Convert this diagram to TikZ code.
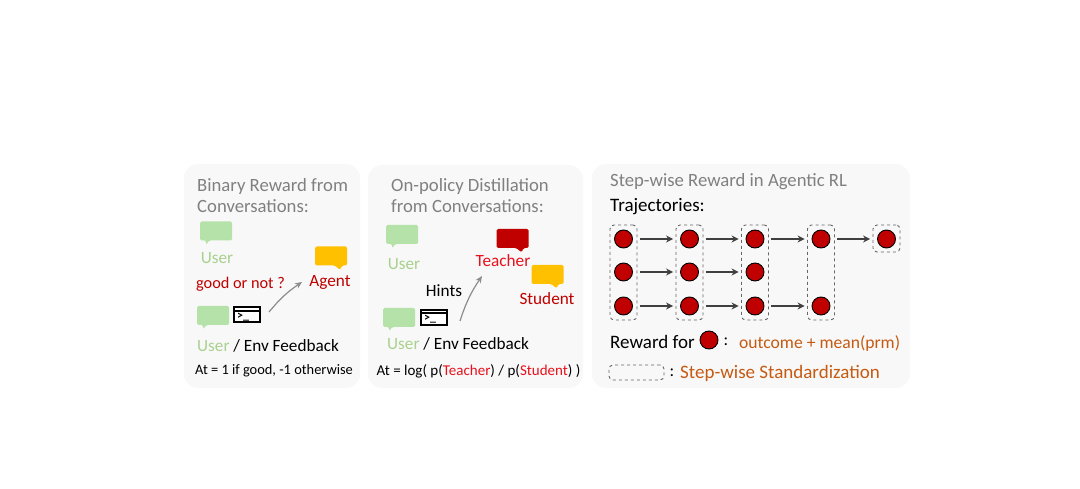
\documentclass[tikz,border=0pt]{standalone}
\usepackage{fontspec}
\setmainfont{Carlito}
\usetikzlibrary{arrows.meta}
\definecolor{panelgray}{HTML}{F8F8F8}
\definecolor{titlegray}{HTML}{808080}
\definecolor{userleaf}{HTML}{A9D18E}
\definecolor{bubblegreen}{HTML}{B5E2A8}
\definecolor{darkred}{HTML}{C00000}
\definecolor{brightred}{HTML}{E8101C}
\definecolor{amber}{HTML}{FFC000}
\definecolor{rust}{HTML}{C55A11}
\tikzset{
  panel/.style={fill=panelgray, rounded corners=14pt},
  title/.style={anchor=west, text=titlegray, font=\fontsize{18.7}{19}\selectfont, inner sep=0pt},
  label/.style={inner sep=0pt, font=\fontsize{17.2}{18}\selectfont},
  wide/.style={inner sep=0pt, font=\fontsize{19}{19}\selectfont},
  small/.style={inner sep=0pt, font=\fontsize{15}{16}\selectfont},
  state/.style={circle, draw=black, fill=darkred, minimum size=18pt, inner sep=0pt, line width=0.9pt},
  stepbox/.style={draw=black!60, dashed, rounded corners=4pt, line width=0.9pt, minimum width=27pt, inner sep=0pt},
  term/.style={draw=black, fill=white, line width=2pt, minimum width=26pt, minimum height=15pt, inner sep=0pt},
  flow/.style={-{Stealth[length=7pt,width=7pt]}, black!75, line width=1.3pt, shorten >=7pt, shorten <=7pt},
  hop/.style={-{Stealth[length=7pt,width=6pt]}, black!45, line width=1.2pt},
  bubbleL/.pic={\fill[pic actions, rounded corners=1.5pt] (-16,-9.5) -- (16,-9.5) -- (16,9.5) -- (-7,9.5) -- (-10,14) -- (-10,9.5) -- (-16,9.5) -- cycle;},
  bubbleR/.pic={\fill[pic actions, rounded corners=1.5pt] (-16,-9.5) -- (16,-9.5) -- (16,9.5) -- (11,9.5) -- (9,14) -- (4,9.5) -- (-16,9.5) -- cycle;}
}
\newcommand{\promptsign}[1]{
  \draw[line width=2pt] ([yshift=4pt]#1.west) -- ([yshift=4pt]#1.east);
  \node[inner sep=0pt, font=\fontsize{12}{12}\selectfont\bfseries] at ([xshift=-4pt,yshift=-2pt]#1.center) {>\_};
}
\begin{document}
\begin{tikzpicture}[x=1pt, y=-1pt]
  \useasboundingbox (0,0) rectangle (1080,489);

  % 1. three panels
  \fill[panel] (184,164) rectangle (360,388);
  \fill[panel] (368,165) rectangle (583,388);
  \fill[panel] (592,164) rectangle (910,388);

  % 2. binary reward panel
  \node[title] (binaryA) at (197,187) {Binary Reward from};
  \node[title] (binaryB) at (197,206) {Conversations:};
  \pic[fill=bubblegreen] at (216,231) {bubbleL};
  \node[label, text=userleaf] (userA) at (217,258) {User};
  \node[small, font=\fontsize{16.3}{17}\selectfont, text=darkred] (good) at (240.5,284) {good or not ?};
  \pic[fill=amber] at (331,256) {bubbleR};
  \node[label, text=darkred] (agent) at (330,282) {Agent};
  \pic[fill=bubblegreen] at (213,315.5) {bubbleL};
  \node[term] (termA) at (247,315) {};
  \promptsign{termA}
  \coordinate (hopA) at (269,312);
  \coordinate (hopB) at (302,282);
  \draw[hop] (hopA) to[bend left=8] (hopB);
  \node[label, anchor=west] (envA) at (197,346) {\textcolor{userleaf}{User} / Env Feedback};
  \node[small, font=\fontsize{14.4}{15}\selectfont] (atA) at (274,371) {At = 1 if good, -1 otherwise};

  % 3. distillation panel
  \node[title] (onpolA) at (391,187) {On-policy Distillation};
  \node[title] (onpolB) at (391,206) {from Conversations:};
  \pic[fill=bubblegreen] at (402,234.5) {bubbleL};
  \node[label, text=userleaf] (userB) at (404,264) {User};
  \pic[fill=darkred] at (512.5,238.5) {bubbleR};
  \node[label, text=brightred] (teacher) at (503,261) {Teacher};
  \pic[fill=amber] at (547.5,274.5) {bubbleR};
  \node[label, text=darkred] (student) at (547,299) {Student};
  \node[label] (hints) at (444,291) {Hints};
  \pic[fill=bubblegreen] at (399,317.5) {bubbleL};
  \node[term] (termB) at (434,317.5) {};
  \promptsign{termB}
  \coordinate (hopC) at (460,321);
  \coordinate (hopD) at (482,276);
  \draw[hop] (hopC) to[bend left=8] (hopD);
  \node[label, anchor=west] (envB) at (387,344) {\textcolor{userleaf}{User} / Env Feedback};
  \node[small] (atB) at (478.5,371) {At = log( p(\textcolor{brightred}{Teacher}) / p(\textcolor{brightred}{Student}) )};

  % 4. step-wise panel
  \node[title] (stepT) at (610,182) {Step-wise Reward in Agentic RL};
  \node[wide, anchor=west] (traj) at (610,207) {Trajectories:};

  % 5. dashed groups
  \node[stepbox, minimum height=95pt] (boxA) at (623.5,272.5) {};
  \node[stepbox, minimum height=95pt] (boxB) at (689.5,272.5) {};
  \node[stepbox, minimum height=95pt] (boxC) at (755,272.5) {};
  \node[stepbox, minimum height=95pt] (boxD) at (821,272.5) {};
  \node[stepbox, minimum height=27pt] (boxE) at (886.5,238.5) {};

  % 6. states
  \node[state] (a1) at (623.5,239) {};
  \node[state] (a2) at (623.5,272) {};
  \node[state] (a3) at (623.5,306) {};
  \node[state] (b1) at (689.5,239) {};
  \node[state] (b2) at (689.5,272) {};
  \node[state] (b3) at (689.5,306) {};
  \node[state] (c1) at (755,239) {};
  \node[state] (c2) at (755,272) {};
  \node[state] (c3) at (755,306) {};
  \node[state] (d1) at (821,239) {};
  \node[state] (d3) at (821,306) {};
  \node[state] (e1) at (886.5,239) {};

  % 7. transitions
  \draw[flow] (a1) -- (b1);
  \draw[flow] (b1) -- (c1);
  \draw[flow] (c1) -- (d1);
  \draw[flow] (d1) -- (e1);
  \draw[flow] (a2) -- (b2);
  \draw[flow] (b2) -- (c2);
  \draw[flow] (a3) -- (b3);
  \draw[flow] (b3) -- (c3);
  \draw[flow] (c3) -- (d3);

  % 8. legend
  \node[wide, anchor=west] (reward) at (610,342) {Reward for};
  \node[state] (rewardDot) at (709,340) {};
  \node[label] (colonA) at (726,342) {:};
  \node[label, font=\fontsize{17.6}{18}\selectfont, anchor=west, text=rust] (outcome) at (739,343) {outcome + mean(prm)};
  \node[stepbox, minimum width=55pt, minimum height=15pt] (legendBox) at (636.5,372.5) {};
  \node[label] (colonB) at (672,373) {:};
  \node[wide, anchor=west, text=rust] (standard) at (680,373) {Step-wise Standardization};
\end{tikzpicture}
\end{document}
